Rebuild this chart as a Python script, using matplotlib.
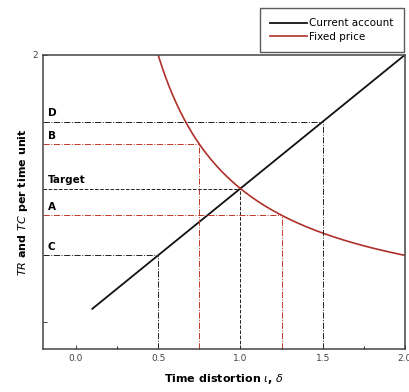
import numpy as np
import matplotlib.pyplot as plt
from matplotlib.ticker import MultipleLocator

# curves
ca_x = np.linspace(0.1, 2.0, 50)
fp_x = np.linspace(0.5, 2.0, 200)

# guide levels: (label, x, y, color, style)
guide_labels = ["D", "B", "Target", "A", "C"]
guide_x = [1.5, 0.75, 1.0, 1.25, 0.5]
guide_y = [1.5, 1.0 / 0.75, 1.0, 0.8, 0.5]
guide_colors = ["#222222", "#c0392b", "#222222", "#c0392b", "#222222"]
guide_styles = ["-.", "-.", "--", "-.", "-."]

xticks = [0.0, 0.5, 1.0, 1.5, 2.0]

red = "#b0302a"

fig = plt.figure(figsize=(4.09, 3.92), dpi=100)
ax = fig.add_axes([0.105, 0.110, 0.885, 0.750])

l1, = ax.plot(ca_x, ca_x, color="#111111", lw=1.3, label="Current account")
l2, = ax.plot(fp_x, 1.0 / fp_x, color=red, lw=1.2, label="Fixed price")

xmin, ymin = -0.2, -0.2
for lab, gx, gy, c, ls in zip(guide_labels, guide_x, guide_y, guide_colors, guide_styles):
    ax.plot([xmin, gx], [gy, gy], color=c, lw=0.7, ls=ls)
    ax.plot([gx, gx], [ymin, gy], color=c, lw=0.7, ls=ls)
    ax.text(xmin + 0.03, gy + 0.025, lab, fontsize=7.5, fontweight="bold", va="bottom", ha="left")

ax.set_xlim(xmin, 2.0)
ax.set_ylim(ymin, 2.0)
ax.set_xticks(xticks)
ax.set_xticklabels([f"{v:.1f}" for v in xticks])
ax.xaxis.set_minor_locator(MultipleLocator(0.25))
ax.set_yticks([0, 2])
ax.set_yticklabels(["", "2"])
ax.tick_params(direction="in", labelsize=6.5, colors="#444444", length=3, width=0.7)
ax.tick_params(which="minor", direction="in", length=2, width=0.6)
for s in ax.spines.values():
    s.set_linewidth(1.1)
    s.set_color("#444444")

ax.set_xlabel(r"Time distortion $\iota$, $\delta$", fontsize=8, fontweight="bold", labelpad=7)
ax.set_ylabel(r"$TR$ and $TC$ per time unit", fontsize=8, fontweight="bold", labelpad=2)

fig.legend(handles=[l1, l2], loc="upper right", bbox_to_anchor=(0.992, 0.985),
           fontsize=7.5, frameon=True, fancybox=False, edgecolor="#333333",
           handlelength=3.5, handletextpad=0.2, borderpad=1.0, labelspacing=0.3,
           borderaxespad=0.2)

fig.savefig("out.png", dpi=100)
